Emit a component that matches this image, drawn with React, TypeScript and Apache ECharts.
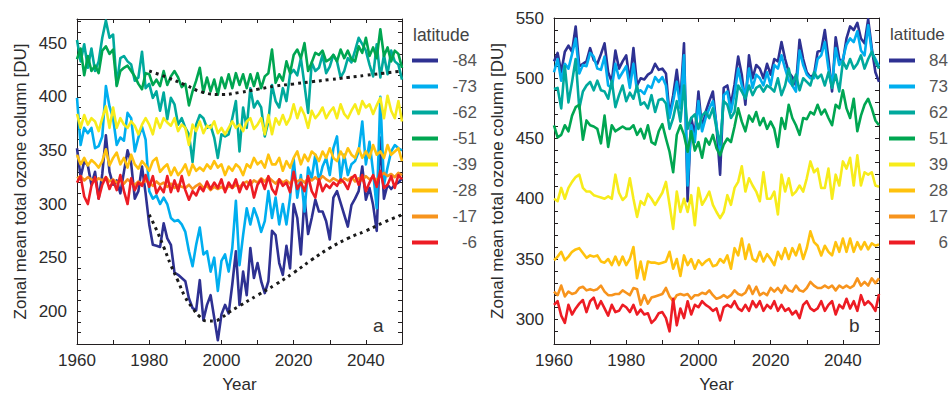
import React, { useEffect, useRef } from 'react';
import * as echarts from 'echarts';

// ---------- data ----------
const YEARS: number[] = Array.from({ length: 91 }, (_, i) => 1960 + i);

const LAT_A = ['-84', '-73', '-62', '-51', '-39', '-28', '-17', '-6'];
const LAT_B = ['84', '73', '62', '51', '39', '28', '17', '6'];
const COLORS = ['#2e3192', '#00aeef', '#00a99d', '#00a651', '#f7ec1b', '#ffc20e', '#f7941d', '#ed1c24'];

const X_LABELS = [1960, 1980, 2000, 2020, 2040];
const X_TICKS = [1970, 1980, 1990, 2000, 2010, 2020, 2030, 2040];
const YA_LABELS = [200, 250, 300, 350, 400, 450];
const YB_LABELS = [300, 350, 400, 450, 500, 550];

// Panel a (southern latitudes)
const A84 = [
  352, 325, 340, 336, 318, 330, 305, 328, 364, 330,
  318, 322, 310, 330, 350, 338, 305, 312, 335, 310,
  281, 262, 261, 260, 282, 268, 262, 236, 234, 231,
  228, 212, 203, 201, 229, 192, 206, 215, 194, 173,
  197, 206, 198, 225, 256, 206, 237, 215, 259, 231,
  245, 228, 217, 228, 275, 271, 245, 234, 261, 240,
  300, 287, 253, 306, 272, 287, 304, 293, 293, 284,
  267, 306, 312, 301, 290, 279, 299, 305, 312, 335,
  304, 315, 299, 275, 362, 305, 318, 314, 318, 320,
  324,
];
const A73 = [
  399, 355, 371, 366, 371, 352, 354, 363, 410, 391,
  380, 355, 362, 359, 385, 380, 349, 362, 372, 360,
  312, 305, 308, 300, 306, 300, 287, 284, 285, 281,
  274, 256, 242, 262, 278, 253, 256, 237, 250, 219,
  247, 253, 237, 259, 303, 243, 271, 296, 281, 296,
  287, 274, 284, 312, 287, 306, 281, 300, 281, 306,
  342, 306, 327, 293, 334, 324, 346, 321, 335, 343,
  327, 352, 363, 324, 346, 327, 337, 340, 349, 377,
  337, 358, 330, 296, 400, 318, 334, 349, 355, 352,
  350,
];
const A62 = [
  453, 433, 449, 427, 445, 424, 433, 455, 471, 455,
  458, 411, 436, 438, 433, 430, 415, 418, 442, 408,
  412, 399, 405, 387, 404, 379, 399, 393, 374, 380,
  371, 365, 339, 374, 383, 380, 371, 373, 362, 343,
  365, 363, 365, 380, 396, 349, 390, 371, 408, 390,
  396, 390, 363, 377, 411, 396, 390, 408, 396, 421,
  425, 420, 436, 411, 385, 432, 424, 427, 439, 422,
  428, 439, 433, 418, 424, 436, 432, 443, 455, 449,
  443, 430, 419, 449, 418, 439, 421, 443, 433, 430,
  416,
];
const A51 = [
  435, 445, 420, 438, 424, 429, 422, 443, 447, 440,
  444, 410, 424, 427, 429, 424, 419, 412, 407, 422,
  421, 411, 416, 410, 424, 411, 419, 424, 418, 409,
  412, 392, 405, 415, 427, 404, 418, 405, 416, 402,
  418, 408, 421, 408, 422, 411, 421, 408, 421, 410,
  422, 408, 419, 422, 444, 413, 421, 415, 433, 422,
  439, 444, 436, 450, 424, 432, 441, 439, 443, 433,
  435, 439, 433, 444, 436, 443, 435, 433, 447, 441,
  455, 438, 446, 436, 463, 438, 446, 433, 443, 440,
  427,
];
const A39 = [
  384, 371, 383, 374, 380, 377, 368, 380, 391, 371,
  390, 371, 380, 374, 371, 377, 373, 365, 374, 380,
  374, 365, 380, 371, 380, 376, 373, 380, 368, 374,
  371, 355, 374, 368, 377, 366, 373, 371, 377, 366,
  371, 365, 371, 377, 371, 374, 368, 377, 380, 370,
  374, 380, 365, 383, 365, 380, 374, 383, 374, 380,
  393, 380, 390, 383, 371, 387, 380, 384, 390, 380,
  386, 390, 380, 393, 384, 380, 387, 393, 384, 396,
  390, 393, 384, 392, 399, 380, 401, 387, 380, 396,
  377,
];
const A28 = [
  346, 337, 343, 336, 341, 338, 334, 340, 351, 336,
  343, 348, 337, 343, 334, 346, 337, 333, 340, 336,
  331, 340, 343, 330, 334, 337, 327, 334, 327, 331,
  337, 327, 337, 331, 334, 331, 337, 333, 340, 334,
  337, 327, 335, 331, 337, 334, 327, 337, 334, 343,
  337, 340, 334, 346, 337, 337, 343, 331, 340, 334,
  343, 349, 337, 346, 340, 349, 346, 340, 349, 343,
  352, 343, 340, 349, 343, 352, 346, 343, 352, 343,
  349, 343, 355, 346, 349, 343, 355, 346, 349, 352,
  340,
];
const A17 = [
  324, 326, 322, 325, 323, 321, 324, 322, 325, 321,
  323, 320, 322, 319, 323, 320, 318, 321, 319, 322,
  320, 317, 321, 318, 320, 316, 319, 315, 318, 316,
  315, 318, 314, 317, 319, 315, 317, 313, 316, 314,
  316, 313, 317, 315, 318, 316, 319, 321, 318, 322,
  320, 324, 321, 325, 322, 319, 323, 320, 322, 319,
  324, 321, 323, 320, 324, 322, 325, 322, 326, 323,
  321, 324, 322, 320, 324, 322, 325, 321, 324, 322,
  326, 323, 325, 322, 326, 329, 326, 328, 325, 329,
  327,
];
const A6 = [
  320, 326, 307, 300, 317, 325, 305, 318, 325, 314,
  322, 313, 327, 312, 300, 324, 313, 320, 317, 327,
  316, 326, 310, 316, 311, 326, 311, 322, 312, 326,
  313, 304, 312, 308, 316, 312, 321, 314, 320, 315,
  323, 311, 320, 315, 323, 311, 320, 314, 322, 306,
  318, 323, 314, 326, 314, 309, 323, 317, 320, 311,
  330, 314, 320, 312, 326, 312, 306, 323, 312, 318,
  315, 320, 317, 323, 320, 314, 324, 327, 318, 327,
  312, 320, 327, 316, 331, 315, 318, 326, 315, 327,
  323,
];

// dotted reference curves, panel a
const UP_YEARS = [1980, 1985, 1990, 1995, 2000, 2005, 2010, 2015, 2020, 2025, 2030, 2035, 2040, 2045, 2050];
const UP_VALS = [424, 418, 411, 404, 402, 404, 407, 410, 412, 414, 416, 418, 420, 422, 424];
const LOW_YEARS = [1980, 1982, 1984, 1986, 1988, 1990, 1992, 1994, 1996, 1998, 2000, 2002, 2005, 2010, 2015, 2020, 2025, 2030, 2035, 2040, 2045, 2050];
const LOW_VALS = [290, 276, 260, 243, 228, 213, 203, 195, 191, 191, 194, 199, 205, 215, 225, 236, 248, 259, 268, 275, 283, 290];

// Panel b (northern latitudes)
const B84 = [
  514, 521, 505, 522, 527, 522, 543, 510, 512, 514,
  525, 515, 512, 520, 529, 505, 497, 523, 508, 514,
  519, 497, 525, 494, 500, 499, 503, 505, 512, 507,
  508, 504, 469, 486, 507, 481, 529, 398, 467, 453,
  489, 458, 472, 481, 489, 460, 420, 492, 494, 478,
  495, 518, 503, 478, 519, 500, 511, 508, 500, 512,
  503, 516, 514, 530, 516, 505, 501, 494, 532, 516,
  505, 501, 503, 522, 523, 540, 516, 489, 534, 516,
  514, 533, 543, 540, 546, 533, 529, 549, 525, 505,
  497,
];
const B73 = [
  505, 516, 498, 512, 508, 520, 533, 504, 511, 510,
  521, 518, 508, 507, 518, 494, 492, 512, 500, 505,
  510, 492, 512, 489, 490, 487, 494, 492, 501, 497,
  501, 494, 467, 481, 497, 475, 519, 411, 461, 447,
  481, 456, 467, 475, 481, 461, 439, 486, 489, 472,
  487, 508, 494, 486, 508, 492, 503, 500, 494, 505,
  494, 511, 508, 519, 508, 498, 494, 489, 523, 511,
  503, 500, 500, 516, 519, 530, 508, 494, 525, 511,
  516, 528, 533, 530, 539, 523, 519, 544, 522, 516,
  510,
];
const B62 = [
  491, 492, 475, 510, 480, 497, 516, 475, 489, 494,
  497, 490, 498, 490, 489, 483, 498, 476, 486, 494,
  481, 488, 483, 494, 478, 480, 475, 486, 472, 482,
  483, 479, 458, 467, 481, 464, 494, 458, 467, 470,
  458, 469, 472, 467, 475, 458, 445, 481, 478, 467,
  472, 494, 489, 483, 494, 486, 492, 494, 489, 494,
  492, 489, 500, 486, 494, 508, 494, 503, 490, 500,
  497, 494, 505, 500, 503, 494, 505, 492, 503, 489,
  514, 508, 516, 508, 512, 519, 508, 516, 522, 514,
  508,
];
const B51 = [
  461, 451, 453, 461, 456, 469, 476, 478, 449, 465,
  461, 460, 458, 446, 469, 443, 461, 456, 458, 460,
  458, 458, 461, 453, 458, 450, 461, 447, 445, 456,
  462, 450, 439, 422, 453, 461, 453, 439, 456, 440,
  447, 434, 450, 445, 453, 442, 436, 445, 450, 447,
  460, 475, 464, 456, 469, 464, 472, 461, 467, 458,
  464, 458, 443, 467, 458, 478, 467, 461, 453, 467,
  466, 472, 470, 478, 470, 474, 467, 461, 478, 475,
  490, 475, 467, 483, 456, 469, 478, 483, 475, 465,
  461,
];
const B39 = [
  400, 398, 409, 400, 409, 414, 418, 420, 409, 406,
  406, 403, 402, 401, 400, 402, 400, 420, 405, 399,
  402, 417, 400, 385, 398, 395, 404, 400, 395, 400,
  405, 414, 395, 375, 406, 389, 400, 389, 403, 378,
  409, 395, 400, 406, 395, 389, 384, 389, 403, 395,
  409, 414, 427, 406, 417, 411, 406, 398, 422, 400,
  400, 406, 387, 420, 406, 417, 403, 406, 411, 406,
  417, 431, 422, 425, 409, 409, 425, 400, 420, 411,
  431, 425, 434, 411, 436, 411, 422, 420, 422, 411,
  410,
];
const B28 = [
  349, 352, 356, 349, 352, 356, 358, 359, 355, 351,
  353, 352, 353, 348, 347, 350, 345, 352, 345, 352,
  345, 350, 360, 334, 348, 333, 348, 347, 347, 346,
  347, 348, 356, 342, 350, 336, 353, 345, 350, 342,
  349, 345, 348, 350, 344, 345, 350, 347, 353, 342,
  359, 353, 367, 350, 362, 350, 348, 356, 348, 354,
  350, 345, 356, 350, 359, 350, 359, 353, 362, 350,
  359, 373, 364, 361, 353, 361, 356, 353, 364, 356,
  367, 356, 367, 356, 364, 358, 364, 358, 363, 361,
  362,
];
const B17 = [
  323, 320, 328, 319, 323, 321, 322, 326, 327, 324,
  325, 324, 325, 328, 323, 320, 320, 321, 321, 324,
  322, 320, 326, 325, 312, 320, 313, 318, 319, 320,
  321, 326, 319, 315, 320, 321, 320, 321, 317, 320,
  320, 322, 321, 324, 320, 317, 318, 320, 318, 320,
  324, 321, 320, 322, 328, 321, 327, 320, 322, 320,
  326, 323, 326, 322, 328, 324, 323, 328, 324, 323,
  326, 331, 328, 326, 326, 328, 326, 328, 324, 328,
  326, 328, 326, 328, 334, 328, 331, 328, 334, 330,
  334,
];
const B6 = [
  312, 315, 303, 297, 312, 304, 309, 313, 316, 306,
  315, 318, 309, 315, 309, 303, 312, 306, 307, 312,
  310, 306, 312, 304, 308, 304, 305, 297, 300, 305,
  306, 301, 290, 317, 295, 309, 301, 315, 304, 312,
  310, 315, 312, 310, 307, 309, 299, 310, 312, 310,
  315, 309, 307, 312, 307, 315, 310, 315, 307, 312,
  309, 315, 307, 312, 307, 309, 304, 307, 301, 312,
  315, 309, 307, 309, 315, 307, 312, 315, 304, 312,
  309, 317, 309, 315, 307, 320, 312, 315, 312, 307,
  321,
];

const SERIES_A = [A84, A73, A62, A51, A39, A28, A17, A6];
const SERIES_B = [B84, B73, B62, B51, B39, B28, B17, B6];

// ---------- styling ----------
const FONT = "'Liberation Sans', Arial, Helvetica, sans-serif";
const AXIS_COLOR = '#231f20';
const TXT = '#2b2b2b';

const tickRange = (lo: number, hi: number) => {
  const out: number[] = [];
  for (let v = lo; v <= hi; v += 10) out.push(v);
  return out;
};

function xAxis(gridIndex: number, position: 'top' | 'bottom', labels: boolean) {
  return {
    type: 'value',
    gridIndex,
    position,
    min: 1960,
    max: 2050,
    axisLine: { show: true, onZero: false, lineStyle: { color: AXIS_COLOR, width: 1 } },
    axisTick: { show: true, inside: true, length: 4, customValues: X_TICKS, lineStyle: { color: AXIS_COLOR, width: 1 } },
    axisLabel: {
      show: labels,
      customValues: X_LABELS,
      formatter: (v: number) => String(v),
      margin: 8,
      fontSize: 17,
      color: TXT,
      fontFamily: FONT,
    },
    splitLine: { show: false },
    name: labels ? 'Year' : '',
    nameLocation: 'middle',
    nameGap: 32,
    nameTextStyle: { fontSize: 17, color: TXT, fontFamily: FONT },
  };
}

function yAxis(gridIndex: number, position: 'left' | 'right', labels: boolean, min: number, max: number, labVals: number[], ticks: number[]) {
  return {
    type: 'value',
    gridIndex,
    position,
    min,
    max,
    axisLine: { show: true, onZero: false, lineStyle: { color: AXIS_COLOR, width: 1 } },
    axisTick: { show: true, inside: true, length: 4, customValues: ticks, lineStyle: { color: AXIS_COLOR, width: 1 } },
    axisLabel: {
      show: labels,
      customValues: labVals,
      formatter: (v: number) => String(v),
      margin: 10,
      fontSize: 17,
      color: TXT,
      fontFamily: FONT,
    },
    splitLine: { show: false },
    name: labels ? 'Zonal mean total ozone column [DU]' : '',
    nameLocation: 'middle',
    nameGap: 48,
    nameTextStyle: { fontSize: 17, color: TXT, fontFamily: FONT },
  };
}

function lineSeries(names: string[], arrays: number[][], xi: number, yi: number) {
  return names.map((n, i) => ({
    name: n,
    type: 'line',
    xAxisIndex: xi,
    yAxisIndex: yi,
    data: YEARS.map((y, k) => [y, arrays[i][k]]),
    symbol: 'none',
    showSymbol: false,
    color: COLORS[i],
    lineStyle: { width: 2.6, color: COLORS[i], join: 'round' },
    itemStyle: { color: COLORS[i] },
    emphasis: { disabled: true },
    z: 2,
  }));
}

function dotted(xs: number[], vs: number[]) {
  return {
    type: 'line',
    xAxisIndex: 0,
    yAxisIndex: 0,
    data: xs.map((x, i) => [x, vs[i]]),
    symbol: 'none',
    smooth: 0.5,
    silent: true,
    lineStyle: { width: 3, color: '#1a1a1a', type: [3, 4] },
    z: 3,
  };
}

function legend(names: string[], left: number, width: number) {
  return {
    data: names,
    orient: 'vertical',
    left,
    top: 52,
    padding: 0,
    icon: 'rect',
    itemWidth: 26,
    itemHeight: 4,
    itemGap: 9,
    selectedMode: false,
    formatter: (n: string) => `{r|${n}}`,
    textStyle: {
      color: '#555',
      fontSize: 17,
      fontFamily: FONT,
      rich: { r: { width, align: 'right', fontSize: 17, color: '#555', fontFamily: FONT, lineHeight: 20 } },
    },
  };
}

export default function App() {
  const ref = useRef<HTMLDivElement>(null);
  useEffect(() => {
    if (!ref.current) return;
    const chart = echarts.init(ref.current, undefined, { renderer: 'svg' });
    const option: any = {
      animation: false,
      backgroundColor: '#ffffff',
      grid: [
        { left: 77, top: 19, width: 325, height: 325, containLabel: false, outerBoundsMode: 'none' },
        { left: 554, top: 18, width: 325, height: 326, containLabel: false, outerBoundsMode: 'none' },
      ],
      xAxis: [
        xAxis(0, 'bottom', true),
        xAxis(0, 'top', false),
        xAxis(1, 'bottom', true),
        xAxis(1, 'top', false),
      ],
      yAxis: [
        yAxis(0, 'left', true, 169.5, 472.5, YA_LABELS, tickRange(180, 470)),
        yAxis(0, 'right', false, 169.5, 472.5, YA_LABELS, tickRange(180, 470)),
        yAxis(1, 'left', true, 279.5, 550, YB_LABELS, tickRange(290, 540)),
        yAxis(1, 'right', false, 279.5, 550, YB_LABELS, tickRange(290, 540)),
      ],
      legend: [legend(LAT_A, 412, 34), legend(LAT_B, 889, 28)],
      graphic: [
        { type: 'text', left: 413, top: 26, style: { text: 'latitude', fontSize: 17.5, fill: '#444', fontFamily: FONT } },
        { type: 'text', left: 890, top: 26, style: { text: 'latitude', fontSize: 17, fill: '#444', fontFamily: FONT } },
        { type: 'text', left: 373, top: 316, style: { text: 'a', fontSize: 19, fill: '#333', fontFamily: FONT } },
        { type: 'text', left: 849, top: 316, style: { text: 'b', fontSize: 19, fill: '#333', fontFamily: FONT } },
      ],
      series: [
        ...lineSeries(LAT_A, SERIES_A, 0, 0),
        ...lineSeries(LAT_B, SERIES_B, 2, 2),
        dotted(UP_YEARS, UP_VALS),
        dotted(LOW_YEARS, LOW_VALS),
      ],
    };
    chart.setOption(option);
    return () => chart.dispose();
  }, []);
  return (
    <div
      ref={ref}
      style={{ position: 'absolute', left: 0, top: 0, width: 949, height: 393, background: '#fff' }}
    />
  );
}
